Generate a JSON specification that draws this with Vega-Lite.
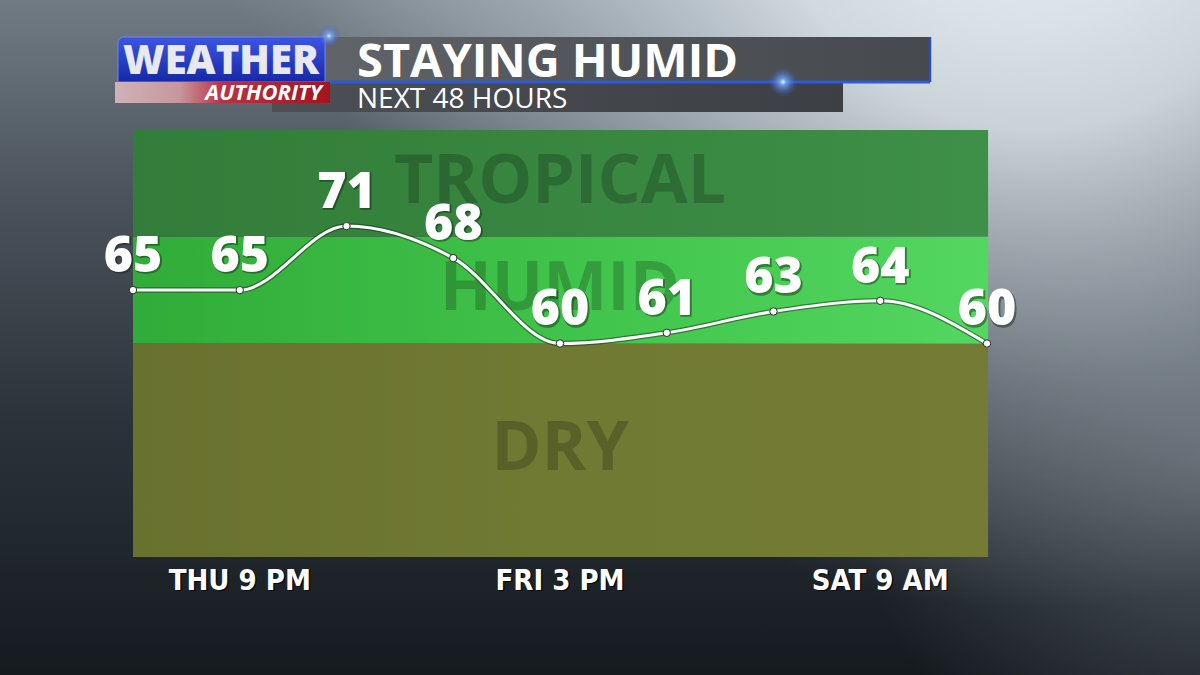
{
  "$schema": "https://vega.github.io/schema/vega-lite/v6.json",
  "width": 1200,
  "height": 675,
  "autosize": {"type": "none"},
  "padding": 0,
  "background": "#2a3138",
  "config": {"view": {"stroke": null}},
  "datasets": {
    "dew": [
      {"hour": 0, "time": "THU 3 PM", "dewpoint": 65},
      {"hour": 6, "time": "THU 9 PM", "dewpoint": 65},
      {"hour": 12, "time": "FRI 3 AM", "dewpoint": 71},
      {"hour": 18, "time": "FRI 9 AM", "dewpoint": 68},
      {"hour": 24, "time": "FRI 3 PM", "dewpoint": 60},
      {"hour": 30, "time": "FRI 9 PM", "dewpoint": 61},
      {"hour": 36, "time": "SAT 3 AM", "dewpoint": 63},
      {"hour": 42, "time": "SAT 9 AM", "dewpoint": 64},
      {"hour": 48, "time": "SAT 3 PM", "dewpoint": 60}
    ],
    "zones": [
      {"zone": "TROPICAL", "low": 70, "high": 80},
      {"zone": "HUMID", "low": 60, "high": 70},
      {"zone": "DRY", "low": 40, "high": 60}
    ],
    "one": [{}]
  },
  "layer": [
    {
      "data": {"name": "one"},
      "mark": {"type": "rect", "fill": {"gradient": "linear", "x1": 0, "y1": 0, "x2": 0, "y2": 1, "stops": [{"offset": 0, "color": "#737d85"}, {"offset": 0.3, "color": "#4a535b"}, {"offset": 0.62, "color": "#2b333a"}, {"offset": 1, "color": "#14191e"}]}},
      "encoding": {
        "x": {"datum": -8, "scale": {"domain": [-7.4755, 59.972], "nice": false, "zero": false}, "axis": null},
        "x2": {"datum": 61},
        "y": {"datum": 28, "scale": {"domain": [28.946, 92.178], "nice": false, "zero": false}, "axis": null},
        "y2": {"datum": 93}
      }
    },
    {
      "data": {"name": "one"},
      "mark": {"type": "rect", "fill": {"gradient": "radial", "x1": 0.55, "y1": -0.05, "r1": 0, "x2": 0.55, "y2": -0.05, "r2": 0.45, "stops": [{"offset": 0, "color": "rgba(205,218,228,0.85)"}, {"offset": 1, "color": "rgba(190,204,214,0)"}]}},
      "encoding": {
        "x": {"datum": -8, "scale": {"domain": [-7.4755, 59.972], "nice": false, "zero": false}, "axis": null},
        "x2": {"datum": 61},
        "y": {"datum": 28, "scale": {"domain": [28.946, 92.178], "nice": false, "zero": false}, "axis": null},
        "y2": {"datum": 93}
      }
    },
    {
      "data": {"name": "one"},
      "mark": {"type": "rect", "fill": {"gradient": "radial", "x1": 1.0, "y1": 0.6, "r1": 0, "x2": 1.0, "y2": 0.6, "r2": 0.3, "stops": [{"offset": 0, "color": "rgba(150,160,168,0.4)"}, {"offset": 1, "color": "rgba(150,160,168,0)"}]}},
      "encoding": {
        "x": {"datum": -8, "scale": {"domain": [-7.4755, 59.972], "nice": false, "zero": false}, "axis": null},
        "x2": {"datum": 61},
        "y": {"datum": 28, "scale": {"domain": [28.946, 92.178], "nice": false, "zero": false}, "axis": null},
        "y2": {"datum": 93}
      }
    },
    {
      "data": {"name": "one"},
      "mark": {"type": "rect", "fill": {"gradient": "radial", "x1": 0.85, "y1": 0.12, "r1": 0, "x2": 0.85, "y2": 0.12, "r2": 0.6, "stops": [{"offset": 0, "color": "rgba(236,242,247,1)"}, {"offset": 0.35, "color": "rgba(222,230,236,0.85)"}, {"offset": 0.7, "color": "rgba(192,202,210,0.35)"}, {"offset": 1, "color": "rgba(180,190,200,0)"}]}},
      "encoding": {
        "x": {"datum": -8, "scale": {"domain": [-7.4755, 59.972], "nice": false, "zero": false}, "axis": null},
        "x2": {"datum": 61},
        "y": {"datum": 28, "scale": {"domain": [28.946, 92.178], "nice": false, "zero": false}, "axis": null},
        "y2": {"datum": 93}
      }
    },
    {
      "data": {"name": "zones"},
      "transform": [{"filter": "datum.zone === 'DRY'"}],
      "mark": {"type": "rect", "fill": {"gradient": "linear", "x1": 0, "y1": 0, "x2": 1, "y2": 0, "stops": [{"offset": 0, "color": "#69712e"}, {"offset": 0.5, "color": "#717a33"}, {"offset": 1, "color": "#737b34"}]}},
      "encoding": {
        "x": {"datum": 0, "scale": {"domain": [-7.4755, 59.972], "nice": false, "zero": false}, "axis": null},
        "x2": {"datum": 48.06},
        "y": {"field": "low", "type": "quantitative", "scale": {"domain": [28.946, 92.178], "nice": false, "zero": false}, "axis": null},
        "y2": {"field": "high"}
      }
    },
    {
      "data": {"name": "zones"},
      "transform": [{"filter": "datum.zone === 'HUMID'"}],
      "mark": {"type": "rect", "fill": {"gradient": "linear", "x1": 0, "y1": 0, "x2": 1, "y2": 0, "stops": [{"offset": 0, "color": "#31ab39"}, {"offset": 0.5, "color": "#40c34a"}, {"offset": 1, "color": "#54d761"}]}},
      "encoding": {
        "x": {"datum": 0, "scale": {"domain": [-7.4755, 59.972], "nice": false, "zero": false}, "axis": null},
        "x2": {"datum": 48.06},
        "y": {"field": "low", "type": "quantitative", "scale": {"domain": [28.946, 92.178], "nice": false, "zero": false}, "axis": null},
        "y2": {"field": "high"}
      }
    },
    {
      "data": {"name": "zones"},
      "transform": [{"filter": "datum.zone === 'TROPICAL'"}],
      "mark": {"type": "rect", "fill": {"gradient": "linear", "x1": 0, "y1": 0, "x2": 1, "y2": 0, "stops": [{"offset": 0, "color": "#327d39"}, {"offset": 1, "color": "#3e8f47"}]}},
      "encoding": {
        "x": {"datum": 0, "scale": {"domain": [-7.4755, 59.972], "nice": false, "zero": false}, "axis": null},
        "x2": {"datum": 48.06},
        "y": {"field": "low", "type": "quantitative", "scale": {"domain": [28.946, 92.178], "nice": false, "zero": false}, "axis": null},
        "y2": {"field": "high"}
      }
    },
    {
      "data": {"name": "zones"},
      "transform": [{"calculate": "(datum.low + datum.high) / 2", "as": "mid"}],
      "mark": {"type": "text", "font": "Open Sans", "fontSize": 68, "fontWeight": "bold", "fill": "#000000", "opacity": 0.2, "align": "center", "baseline": "alphabetic", "dy": 20},
      "encoding": {
        "x": {"datum": 24, "scale": {"domain": [-7.4755, 59.972], "nice": false, "zero": false}, "axis": null},
        "y": {"field": "mid", "type": "quantitative", "scale": {"domain": [28.946, 92.178], "nice": false, "zero": false}, "axis": null},
        "text": {"field": "zone"}
      }
    },
    {
      "data": {"name": "dew"},
      "mark": {"type": "line", "interpolate": "monotone", "stroke": "#123016", "strokeWidth": 5.5, "opacity": 0.5},
      "encoding": {
        "x": {"field": "hour", "type": "quantitative", "scale": {"domain": [-7.4755, 59.972], "nice": false, "zero": false}, "axis": null},
        "y": {"field": "dewpoint", "type": "quantitative", "scale": {"domain": [28.946, 92.178], "nice": false, "zero": false}, "axis": null}
      }
    },
    {
      "data": {"name": "dew"},
      "mark": {"type": "line", "interpolate": "monotone", "stroke": "#ffffff", "strokeWidth": 3},
      "encoding": {
        "x": {"field": "hour", "type": "quantitative", "scale": {"domain": [-7.4755, 59.972], "nice": false, "zero": false}, "axis": null},
        "y": {"field": "dewpoint", "type": "quantitative", "scale": {"domain": [28.946, 92.178], "nice": false, "zero": false}, "axis": null}
      }
    },
    {
      "data": {"name": "dew"},
      "mark": {"type": "point", "shape": "circle", "filled": true, "fill": "#ffffff", "stroke": "#2a2a2a", "strokeWidth": 1, "size": 55, "opacity": 1},
      "encoding": {
        "x": {"field": "hour", "type": "quantitative", "scale": {"domain": [-7.4755, 59.972], "nice": false, "zero": false}, "axis": null},
        "y": {"field": "dewpoint", "type": "quantitative", "scale": {"domain": [28.946, 92.178], "nice": false, "zero": false}, "axis": null}
      }
    },
    {
      "data": {"name": "dew"},
      "mark": {"type": "text", "font": "Open Sans", "fontSize": 50, "fontWeight": 800, "fill": "#0e2410", "stroke": "#0e2410", "strokeWidth": 1.5, "opacity": 0.45, "align": "center", "baseline": "alphabetic", "dx": 1.2, "dy": -16.8},
      "encoding": {
        "x": {"field": "hour", "type": "quantitative", "scale": {"domain": [-7.4755, 59.972], "nice": false, "zero": false}, "axis": null},
        "y": {"field": "dewpoint", "type": "quantitative", "scale": {"domain": [28.946, 92.178], "nice": false, "zero": false}, "axis": null},
        "text": {"field": "dewpoint", "type": "quantitative"}
      }
    },
    {
      "data": {"name": "dew"},
      "mark": {"type": "text", "font": "Open Sans", "fontSize": 50, "fontWeight": 800, "fill": "#ffffff", "align": "center", "baseline": "alphabetic", "dy": -18},
      "encoding": {
        "x": {"field": "hour", "type": "quantitative", "scale": {"domain": [-7.4755, 59.972], "nice": false, "zero": false}, "axis": null},
        "y": {"field": "dewpoint", "type": "quantitative", "scale": {"domain": [28.946, 92.178], "nice": false, "zero": false}, "axis": null},
        "text": {"field": "dewpoint", "type": "quantitative"}
      }
    },
    {
      "data": {"name": "dew"},
      "transform": [{"filter": "datum.hour % 18 === 6"}],
      "mark": {"type": "text", "font": "DejaVu Sans Condensed", "fontSize": 29, "fontWeight": "bold", "fill": "#000000", "opacity": 0.7, "align": "center", "baseline": "alphabetic", "dx": 1.5, "dy": 1.5},
      "encoding": {
        "x": {"field": "hour", "type": "quantitative", "scale": {"domain": [-7.4755, 59.972], "nice": false, "zero": false}, "axis": null},
        "y": {"datum": 36.909, "scale": {"domain": [28.946, 92.178], "nice": false, "zero": false}, "axis": null},
        "text": {"field": "time"}
      }
    },
    {
      "data": {"name": "dew"},
      "transform": [{"filter": "datum.hour % 18 === 6"}],
      "mark": {"type": "text", "font": "DejaVu Sans Condensed", "fontSize": 29, "fontWeight": "bold", "fill": "#ffffff", "align": "center", "baseline": "alphabetic"},
      "encoding": {
        "x": {"field": "hour", "type": "quantitative", "scale": {"domain": [-7.4755, 59.972], "nice": false, "zero": false}, "axis": null},
        "y": {"datum": 36.909, "scale": {"domain": [28.946, 92.178], "nice": false, "zero": false}, "axis": null},
        "text": {"field": "time"}
      }
    },
    {
      "data": {"name": "one"},
      "mark": {"type": "rect", "fill": {"gradient": "linear", "x1": 0, "y1": 0, "x2": 1, "y2": 0, "stops": [{"offset": 0, "color": "#4c4f53"}, {"offset": 1, "color": "#3c3f43"}]}},
      "encoding": {
        "x": {"datum": 7.813, "scale": {"domain": [-7.4755, 59.972], "nice": false, "zero": false}, "axis": null},
        "x2": {"datum": 39.907},
        "y": {"datum": 84.496, "scale": {"domain": [28.946, 92.178], "nice": false, "zero": false}, "axis": null},
        "y2": {"datum": 81.686}
      }
    },
    {
      "data": {"name": "one"},
      "mark": {"type": "rect", "fill": {"gradient": "linear", "x1": 0, "y1": 0, "x2": 1, "y2": 0, "stops": [{"offset": 0, "color": "#616468"}, {"offset": 0.5, "color": "#505357"}, {"offset": 1, "color": "#46494d"}]}},
      "encoding": {
        "x": {"datum": 10.511, "scale": {"domain": [-7.4755, 59.972], "nice": false, "zero": false}, "axis": null},
        "x2": {"datum": 44.797},
        "y": {"datum": 88.712, "scale": {"domain": [28.946, 92.178], "nice": false, "zero": false}, "axis": null},
        "y2": {"datum": 84.496}
      }
    },
    {
      "data": {"name": "one"},
      "mark": {"type": "rule", "stroke": "#2f5ad6", "strokeWidth": 3},
      "encoding": {
        "x": {"datum": 10.8, "scale": {"domain": [-7.4755, 59.972], "nice": false, "zero": false}, "axis": null},
        "x2": {"datum": 44.797},
        "y": {"datum": 84.496, "scale": {"domain": [28.946, 92.178], "nice": false, "zero": false}, "axis": null}
      }
    },
    {
      "data": {"name": "one"},
      "mark": {"type": "rule", "stroke": "#2a4cc0", "strokeWidth": 2.5},
      "encoding": {
        "x": {"datum": 44.797, "scale": {"domain": [-7.4755, 59.972], "nice": false, "zero": false}, "axis": null},
        "y": {"datum": 88.712, "scale": {"domain": [28.946, 92.178], "nice": false, "zero": false}, "axis": null},
        "y2": {"datum": 84.496}
      }
    },
    {
      "data": {"name": "one"},
      "mark": {"type": "rect", "cornerRadiusTopLeft": 6, "stroke": "#6f86f0", "strokeWidth": 1, "fill": {"gradient": "linear", "x1": 0, "y1": 0, "x2": 0, "y2": 1, "stops": [{"offset": 0, "color": "#3b56e4"}, {"offset": 1, "color": "#1628a6"}]}},
      "encoding": {
        "x": {"datum": -0.843, "scale": {"domain": [-7.4755, 59.972], "nice": false, "zero": false}, "axis": null},
        "x2": {"datum": 10.792},
        "y": {"datum": 88.712, "scale": {"domain": [28.946, 92.178], "nice": false, "zero": false}, "axis": null},
        "y2": {"datum": 84.496}
      }
    },
    {
      "data": {"name": "one"},
      "mark": {"type": "rect", "fill": {"gradient": "linear", "x1": 0, "y1": 0, "x2": 1, "y2": 0, "stops": [{"offset": 0, "color": "#cdb3b6"}, {"offset": 0.3, "color": "#c6979c"}, {"offset": 0.5, "color": "#b83242"}, {"offset": 1, "color": "#a4141f"}]}},
      "encoding": {
        "x": {"datum": -1.012, "scale": {"domain": [-7.4755, 59.972], "nice": false, "zero": false}, "axis": null},
        "x2": {"datum": 11.073},
        "y": {"datum": 84.496, "scale": {"domain": [28.946, 92.178], "nice": false, "zero": false}, "axis": null},
        "y2": {"datum": 82.529}
      }
    },
    {
      "data": {"name": "one"},
      "mark": {"type": "point", "shape": "circle", "filled": true, "size": 900, "opacity": 1, "strokeWidth": 0, "fill": {"gradient": "radial", "x1": 0.5, "y1": 0.5, "r1": 0, "x2": 0.5, "y2": 0.5, "r2": 0.5, "stops": [{"offset": 0, "color": "rgba(235,245,255,1)"}, {"offset": 0.2, "color": "rgba(130,180,255,0.8)"}, {"offset": 1, "color": "rgba(40,90,220,0)"}]}},
      "encoding": {
        "x": {"datum": 36.534, "scale": {"domain": [-7.4755, 59.972], "nice": false, "zero": false}, "axis": null},
        "y": {"datum": 84.496, "scale": {"domain": [28.946, 92.178], "nice": false, "zero": false}, "axis": null}
      }
    },
    {
      "data": {"name": "one"},
      "mark": {"type": "point", "shape": "circle", "filled": true, "size": 500, "opacity": 1, "strokeWidth": 0, "fill": {"gradient": "radial", "x1": 0.5, "y1": 0.5, "r1": 0, "x2": 0.5, "y2": 0.5, "r2": 0.5, "stops": [{"offset": 0, "color": "rgba(235,245,255,1)"}, {"offset": 0.2, "color": "rgba(130,180,255,0.8)"}, {"offset": 1, "color": "rgba(40,90,220,0)"}]}},
      "encoding": {
        "x": {"datum": 11.016, "scale": {"domain": [-7.4755, 59.972], "nice": false, "zero": false}, "axis": null},
        "y": {"datum": 88.806, "scale": {"domain": [28.946, 92.178], "nice": false, "zero": false}, "axis": null}
      }
    },
    {
      "data": {"name": "one"},
      "mark": {"type": "text", "text": "WEATHER", "font": "Open Sans", "fontSize": 40, "fontWeight": 800, "fill": "#e8e8f0", "align": "center", "baseline": "alphabetic"},
      "encoding": {
        "x": {"datum": 4.947, "scale": {"domain": [-7.4755, 59.972], "nice": false, "zero": false}, "axis": null},
        "y": {"datum": 85.246, "scale": {"domain": [28.946, 92.178], "nice": false, "zero": false}, "axis": null}
      }
    },
    {
      "data": {"name": "one"},
      "mark": {"type": "text", "text": "AUTHORITY", "font": "Open Sans", "fontSize": 22, "fontWeight": "bold", "fontStyle": "italic", "fill": "#ffffff", "align": "right", "baseline": "alphabetic"},
      "encoding": {
        "x": {"datum": 10.623, "scale": {"domain": [-7.4755, 59.972], "nice": false, "zero": false}, "axis": null},
        "y": {"datum": 82.765, "scale": {"domain": [28.946, 92.178], "nice": false, "zero": false}, "axis": null}
      }
    },
    {
      "data": {"name": "one"},
      "mark": {"type": "text", "text": "STAYING HUMID", "font": "Open Sans", "fontSize": 47, "fontWeight": "bold", "fill": "#ffffff", "align": "left", "baseline": "alphabetic"},
      "encoding": {
        "x": {"datum": 12.59, "scale": {"domain": [-7.4755, 59.972], "nice": false, "zero": false}, "axis": null},
        "y": {"datum": 84.965, "scale": {"domain": [28.946, 92.178], "nice": false, "zero": false}, "axis": null}
      }
    },
    {
      "data": {"name": "one"},
      "mark": {"type": "text", "text": "NEXT 48 HOURS", "font": "Open Sans", "fontSize": 28, "fontWeight": "normal", "fill": "#ffffff", "align": "left", "baseline": "alphabetic"},
      "encoding": {
        "x": {"datum": 12.59, "scale": {"domain": [-7.4755, 59.972], "nice": false, "zero": false}, "axis": null},
        "y": {"datum": 82.061, "scale": {"domain": [28.946, 92.178], "nice": false, "zero": false}, "axis": null}
      }
    }
  ]
}
